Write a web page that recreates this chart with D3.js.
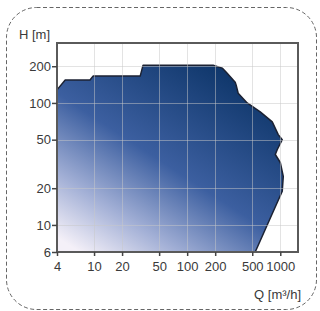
<!DOCTYPE html>
<html>
<head>
<meta charset="utf-8">
<script src="https://cdn.jsdelivr.net/npm/d3@7"></script>
<style>
  body { margin: 0; background: #fff; }
  text { font-family: "Liberation Sans Narrow", "Arial Narrow", "Liberation Sans", sans-serif; fill: #3a3a3a; }
</style>
</head>
<body>
<svg></svg>
<script>
// Q [m3/h] ticks and H [m] ticks
const xTicks = [4, 10, 20, 50, 100, 200, 500, 1000];
const yTicks = [6, 10, 20, 50, 100, 200];

// outline of the pump range
const envelopeQ = [4, 4.9, 9.05, 9.75, 31.3, 33.6, 190, 238, 269, 328, 336, 353, 441, 609, 820, 951, 1050, 929, 884, 1000, 1077, 1050, 538, 4];
const envelopeH = [128, 154, 154, 166, 166, 204, 204, 193, 175, 148, 140, 120, 100, 84.5, 70, 55, 50, 41.5, 37.8, 32.5, 25, 18.9, 6, 6];

const width = 320;
const height = 311;

const svg = d3.select('svg')
  .attr('width', width)
  .attr('height', height);

// dashed rounded frame
svg.append('rect')
  .attr('x', 6.5)
  .attr('y', 7.5)
  .attr('width', 310)
  .attr('height', 302)
  .attr('rx', 30)
  .attr('fill', 'none')
  .attr('stroke', '#666')
  .attr('stroke-width', 1)
  .attr('stroke-dasharray', '4,2.5');

const x = d3.scaleLog().domain([4, 1550]).range([57, 298]);
const y = d3.scaleLog().domain([6, 310]).range([252, 43]);

const defs = svg.append('defs');
const grad = defs.append('linearGradient')
  .attr('id', 'fillGrad')
  .attr('x1', 0.1).attr('y1', 1)
  .attr('x2', 0.85).attr('y2', 0.05);
grad.append('stop').attr('offset', 0).attr('stop-color', '#f4f0f8');
grad.append('stop').attr('offset', 0.22).attr('stop-color', '#a3b0d6');
grad.append('stop').attr('offset', 0.5).attr('stop-color', '#3c5fa0');
grad.append('stop').attr('offset', 1).attr('stop-color', '#0b3366');

// plot background
svg.append('rect')
  .attr('x', x.range()[0])
  .attr('y', y.range()[1])
  .attr('width', x.range()[1] - x.range()[0])
  .attr('height', y.range()[0] - y.range()[1])
  .attr('fill', '#fff');

const envelope = envelopeQ.map((q, i) => [q, envelopeH[i]]);

svg.append('path')
  .datum(envelope)
  .attr('d', d3.line().x(d => x(d[0])).y(d => y(d[1])).curve(d3.curveLinearClosed))
  .attr('fill', 'url(#fillGrad)')
  .attr('stroke', '#1c2233')
  .attr('stroke-width', 1.5)
  .attr('stroke-linejoin', 'round');

// grid drawn over the fill, faint
const grid = svg.append('g')
  .attr('stroke', '#c8c8c8')
  .attr('stroke-opacity', 0.5)
  .attr('stroke-width', 1);

grid.selectAll('line.v')
  .data(xTicks.slice(1))
  .enter()
  .append('line')
  .attr('x1', d => Math.round(x(d)) + 0.5)
  .attr('x2', d => Math.round(x(d)) + 0.5)
  .attr('y1', y.range()[1])
  .attr('y2', y.range()[0]);

grid.selectAll('line.h')
  .data(yTicks.slice(1))
  .enter()
  .append('line')
  .attr('y1', d => Math.round(y(d)) + 0.5)
  .attr('y2', d => Math.round(y(d)) + 0.5)
  .attr('x1', x.range()[0])
  .attr('x2', x.range()[1]);

// frame
svg.append('rect')
  .attr('x', x.range()[0])
  .attr('y', y.range()[1])
  .attr('width', x.range()[1] - x.range()[0])
  .attr('height', y.range()[0] - y.range()[1])
  .attr('fill', 'none')
  .attr('stroke', '#5a5a5a')
  .attr('stroke-width', 2);

const xAxis = svg.append('g')
  .attr('transform', `translate(0,${y.range()[0]})`)
  .call(d3.axisBottom(x).tickValues(xTicks).tickFormat(d3.format('d')).tickSize(4).tickPadding(6));

const yAxis = svg.append('g')
  .attr('transform', `translate(${x.range()[0]},0)`)
  .call(d3.axisLeft(y).tickValues(yTicks).tickFormat(d3.format('d')).tickSize(5).tickPadding(1));

[xAxis, yAxis].forEach(a => {
  a.select('.domain').remove();
  a.selectAll('line').attr('stroke', '#444').attr('stroke-width', 1.5);
  a.selectAll('text').attr('font-size', 13).attr('fill', '#3a3a3a');
});

svg.append('text')
  .attr('x', 19)
  .attr('y', 39)
  .attr('font-size', 13)
  .text('H [m]');

svg.append('text')
  .attr('x', 301)
  .attr('y', 299)
  .attr('text-anchor', 'end')
  .attr('font-size', 13)
  .text('Q [m³/h]');
</script>
</body>
</html>
